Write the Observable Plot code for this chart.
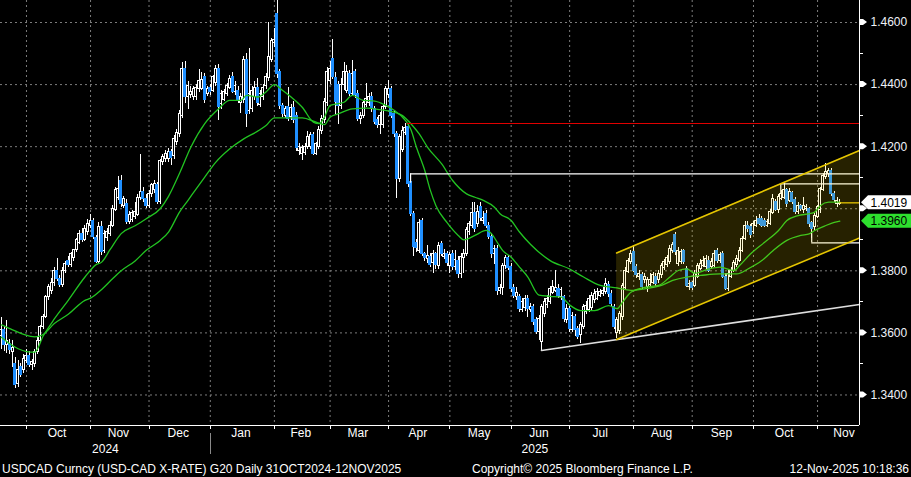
<!DOCTYPE html>
<html><head><meta charset="utf-8">
<script src="https://cdn.jsdelivr.net/npm/d3@7"></script>
<script src="https://cdn.jsdelivr.net/npm/@observablehq/plot@0.6"></script>
<style>
html,body{margin:0;padding:0;background:#000;}
#wrap{position:relative;width:911px;height:477px;overflow:hidden;background:#000;}
.foot{position:absolute;top:462px;height:15px;line-height:15px;font:12px 'Liberation Sans',Arial,sans-serif;color:#fff;white-space:nowrap;}
</style></head>
<body>
<div id="wrap">
<div id="chart"></div>
<div class="foot" style="left:2px">USDCAD Curncy (USD-CAD X-RATE) G20 Daily 31OCT2024-12NOV2025</div>
<div class="foot" style="left:472px">Copyright© 2025 Bloomberg Finance L.P.</div>
<div class="foot" style="right:2px">12-Nov-2025 10:18:36</div>
</div>
<script>
// ---------------- data (daily candles, trading-day index 0 = 18 Sep 2024) ----------------
const open = [
1.3590,1.3608,1.3560,1.3565,1.3540,1.3500,1.3435,1.3490,1.3480,1.3510,
1.3527,1.3497,1.3500,1.3538,1.3575,1.3618,1.3651,1.3715,1.3735,1.3760,
1.3800,1.3775,1.3755,1.3800,1.3833,1.3818,1.3840,1.3866,1.3890,1.3920,
1.3900,1.3925,1.3945,1.3960,1.3905,1.3830,1.3940,1.3865,1.3905,1.3920,
1.3945,1.3995,1.4035,1.4090,1.4010,1.4015,1.3958,1.3965,1.3975,1.3980,
1.4035,1.4055,1.4030,1.4010,1.4048,1.4060,1.4075,1.4022,1.4150,1.4160,
1.4160,1.4182,1.4170,1.4215,1.4240,1.4300,1.4451,1.4360,1.4365,1.4360,
1.4360,1.4385,1.4385,1.4425,1.4370,1.4390,1.4380,1.4405,1.4450,1.4338,
1.4350,1.4370,1.4390,1.4424,1.4375,1.4380,1.4340,1.4350,1.4478,1.4316,
1.4320,1.4360,1.4390,1.4335,1.4360,1.4395,1.4420,1.4480,1.4535,1.4628,
1.4440,1.4330,1.4300,1.4327,1.4295,1.4325,1.4300,1.4185,1.4175,1.4180,
1.4200,1.4200,1.4236,1.4177,1.4200,1.4250,1.4285,1.4340,1.4410,1.4483,
1.4420,1.4400,1.4330,1.4400,1.4380,1.4435,1.4370,1.4440,1.4370,1.4290,
1.4300,1.4334,1.4340,1.4360,1.4320,1.4285,1.4270,1.4270,1.4327,1.4365,
1.4385,1.4305,1.4240,1.4096,1.4190,1.4245,1.4263,1.4085,1.3984,1.3890,
1.3865,1.3960,1.3855,1.3838,1.3845,1.3825,1.3855,1.3815,1.3885,1.3845,
1.3855,1.3815,1.3855,1.3812,1.3833,1.3790,1.3840,1.3855,1.3925,1.3945,
1.3985,1.3950,1.4005,1.3962,1.3984,1.3945,1.3910,1.3855,1.3870,1.3735,
1.3745,1.3815,1.3840,1.3812,1.3745,1.3715,1.3715,1.3675,1.3680,1.3710,
1.3675,1.3683,1.3640,1.3602,1.3570,1.3660,1.3690,1.3700,1.3730,1.3735,
1.3742,1.3715,1.3715,1.3640,1.3678,1.3608,1.3651,1.3613,1.3592,1.3618,
1.3667,1.3675,1.3680,1.3705,1.3710,1.3720,1.3725,1.3731,1.3753,1.3726,
1.3683,1.3600,1.3605,1.3650,1.3745,1.3796,1.3828,1.3860,1.3812,1.3780,
1.3785,1.3769,1.3747,1.3755,1.3760,1.3780,1.3769,1.3785,1.3810,1.3820,
1.3828,1.3865,1.3914,1.3822,1.3828,1.3865,1.3805,1.3748,1.3760,1.3750,
1.3780,1.3805,1.3815,1.3812,1.3833,1.3812,1.3815,1.3865,1.3833,1.3855,
1.3780,1.3742,1.3780,1.3801,1.3818,1.3833,1.3865,1.3903,1.3946,1.3941,
1.3925,1.3946,1.3967,1.3967,1.3962,1.3946,1.3951,1.3985,1.4021,1.3995,
1.4032,1.4035,1.4059,1.4025,1.4050,1.4027,1.3990,1.4010,1.3995,1.4000,
1.4000,1.3955,1.3940,1.3975,1.3995,1.4059,1.4102,1.4112,1.4123,1.4048,
1.4016,1.4014];
const high = [
1.3650,1.3620,1.3640,1.3580,1.3575,1.3520,1.3510,1.3500,1.3530,1.3545,
1.3540,1.3515,1.3545,1.3585,1.3625,1.3660,1.3720,1.3755,1.3775,1.3810,
1.3840,1.3785,1.3810,1.3830,1.3845,1.3860,1.3870,1.3905,1.3930,1.3935,
1.3945,1.3965,1.3980,1.3970,1.3915,1.3955,1.3960,1.3930,1.3935,1.3960,
1.4010,1.4070,1.4105,1.4108,1.4040,1.4030,1.3990,1.3995,1.4020,1.4045,
1.4175,1.4070,1.4045,1.4060,1.4080,1.4090,1.4085,1.4160,1.4175,1.4188,
1.4195,1.4190,1.4235,1.4255,1.4315,1.4470,1.4475,1.4410,1.4395,1.4395,
1.4400,1.4450,1.4440,1.4435,1.4395,1.4400,1.4430,1.4460,1.4465,1.4380,
1.4385,1.4405,1.4430,1.4440,1.4410,1.4395,1.4370,1.4490,1.4500,1.4515,
1.4395,1.4410,1.4420,1.4380,1.4400,1.4435,1.4600,1.4550,1.4580,1.4710,
1.4450,1.4340,1.4330,1.4390,1.4335,1.4345,1.4310,1.4210,1.4205,1.4210,
1.4250,1.4245,1.4245,1.4215,1.4265,1.4300,1.4355,1.4455,1.4475,1.4545,
1.4440,1.4410,1.4420,1.4470,1.4460,1.4445,1.4478,1.4450,1.4380,1.4310,
1.4350,1.4405,1.4370,1.4375,1.4330,1.4295,1.4310,1.4335,1.4395,1.4413,
1.4395,1.4315,1.4250,1.4240,1.4265,1.4275,1.4275,1.4095,1.3990,1.3900,
1.3965,1.3970,1.3860,1.3880,1.3855,1.3865,1.3860,1.3890,1.3895,1.3870,
1.3862,1.3860,1.3865,1.3865,1.3845,1.3855,1.3870,1.3940,1.3960,1.4020,
1.4020,1.4010,1.4020,1.3990,1.3995,1.3955,1.3920,1.3880,1.3880,1.3755,
1.3825,1.3850,1.3850,1.3822,1.3755,1.3745,1.3725,1.3712,1.3720,1.3720,
1.3695,1.3690,1.3650,1.3655,1.3690,1.3710,1.3720,1.3750,1.3769,1.3801,
1.3755,1.3745,1.3720,1.3690,1.3685,1.3665,1.3660,1.3620,1.3635,1.3690,
1.3700,1.3720,1.3730,1.3740,1.3742,1.3740,1.3745,1.3774,1.3765,1.3735,
1.3690,1.3650,1.3670,1.3760,1.3810,1.3840,1.3865,1.3882,1.3820,1.3800,
1.3795,1.3790,1.3780,1.3790,1.3795,1.3790,1.3800,1.3825,1.3835,1.3850,
1.3880,1.3890,1.3925,1.3875,1.3870,1.3870,1.3815,1.3770,1.3765,1.3800,
1.3825,1.3835,1.3845,1.3850,1.3845,1.3840,1.3865,1.3872,1.3860,1.3862,
1.3790,1.3800,1.3810,1.3832,1.3850,1.3875,1.3910,1.3958,1.3960,1.3950,
1.3960,1.3975,1.3980,1.3975,1.3970,1.3965,1.3998,1.4045,1.4030,1.4045,
1.4058,1.4080,1.4065,1.4065,1.4055,1.4035,1.4020,1.4015,1.4037,1.4015,
1.4005,1.3960,1.3985,1.4010,1.4070,1.4115,1.4145,1.4130,1.4130,1.4055,
1.4035,1.4030];
const low = [
1.3545,1.3540,1.3535,1.3530,1.3490,1.3421,1.3425,1.3455,1.3470,1.3500,
1.3490,1.3480,1.3490,1.3530,1.3570,1.3610,1.3645,1.3705,1.3725,1.3750,
1.3765,1.3745,1.3745,1.3790,1.3810,1.3810,1.3830,1.3858,1.3885,1.3890,
1.3895,1.3915,1.3935,1.3900,1.3825,1.3820,1.3850,1.3855,1.3895,1.3910,
1.3940,1.3990,1.4025,1.4005,1.4000,1.3950,1.3950,1.3955,1.3965,1.3975,
1.4025,1.4020,1.4000,1.4000,1.4035,1.4050,1.4015,1.4015,1.4140,1.4150,
1.4150,1.4140,1.4160,1.4205,1.4230,1.4290,1.4340,1.4320,1.4355,1.4350,
1.4350,1.4375,1.4380,1.4340,1.4360,1.4365,1.4375,1.4395,1.4285,1.4320,
1.4345,1.4360,1.4385,1.4370,1.4365,1.4340,1.4306,1.4340,1.4263,1.4305,
1.4310,1.4350,1.4330,1.4325,1.4350,1.4385,1.4410,1.4470,1.4520,1.4420,
1.4320,1.4295,1.4290,1.4280,1.4285,1.4275,1.4185,1.4170,1.4155,1.4170,
1.4190,1.4190,1.4170,1.4170,1.4190,1.4240,1.4275,1.4330,1.4400,1.4415,
1.4300,1.4270,1.4320,1.4380,1.4370,1.4360,1.4360,1.4355,1.4280,1.4273,
1.4290,1.4325,1.4330,1.4310,1.4270,1.4260,1.4240,1.4260,1.4320,1.4355,
1.4290,1.4230,1.4032,1.4085,1.4180,1.4235,1.4070,1.3975,1.3845,1.3860,
1.3855,1.3845,1.3830,1.3825,1.3810,1.3790,1.3805,1.3805,1.3845,1.3835,
1.3815,1.3790,1.3800,1.3800,1.3775,1.3775,1.3790,1.3845,1.3915,1.3935,
1.3925,1.3940,1.3960,1.3950,1.3935,1.3900,1.3840,1.3820,1.3720,1.3725,
1.3720,1.3805,1.3800,1.3730,1.3710,1.3705,1.3665,1.3665,1.3670,1.3651,
1.3665,1.3625,1.3595,1.3575,1.3543,1.3650,1.3680,1.3690,1.3725,1.3730,
1.3710,1.3705,1.3635,1.3630,1.3600,1.3600,1.3590,1.3580,1.3565,1.3610,
1.3660,1.3665,1.3670,1.3695,1.3705,1.3715,1.3718,1.3725,1.3715,1.3685,
1.3610,1.3582,1.3595,1.3640,1.3737,1.3790,1.3820,1.3795,1.3775,1.3770,
1.3740,1.3760,1.3730,1.3745,1.3755,1.3750,1.3760,1.3775,1.3800,1.3810,
1.3820,1.3855,1.3850,1.3815,1.3820,1.3820,1.3745,1.3737,1.3735,1.3745,
1.3775,1.3800,1.3810,1.3805,1.3795,1.3805,1.3810,1.3825,1.3825,1.3775,
1.3735,1.3732,1.3775,1.3795,1.3812,1.3828,1.3860,1.3898,1.3925,1.3905,
1.3918,1.3940,1.3945,1.3940,1.3938,1.3940,1.3945,1.3980,1.3990,1.3985,
1.4025,1.4030,1.4005,1.4020,1.4015,1.3980,1.3980,1.3990,1.3985,1.3990,
1.3940,1.3905,1.3930,1.3970,1.3985,1.4055,1.4095,1.4100,1.4040,1.4020,
1.4005,1.4010];
const close = [
1.3610,1.3560,1.3575,1.3545,1.3550,1.3432,1.3480,1.3465,1.3517,1.3527,
1.3497,1.3505,1.3538,1.3575,1.3618,1.3651,1.3715,1.3747,1.3760,1.3800,
1.3775,1.3753,1.3800,1.3823,1.3818,1.3855,1.3866,1.3898,1.3920,1.3900,
1.3935,1.3952,1.3960,1.3910,1.3830,1.3940,1.3860,1.3920,1.3925,1.3945,
1.4000,1.4060,1.4065,1.4015,1.4030,1.3958,1.3980,1.3985,1.3990,1.4035,
1.4055,1.4030,1.4010,1.4048,1.4075,1.4080,1.4022,1.4155,1.4166,1.4177,
1.4182,1.4165,1.4225,1.4245,1.4305,1.4451,1.4360,1.4395,1.4375,1.4385,
1.4390,1.4410,1.4415,1.4350,1.4385,1.4375,1.4425,1.4450,1.4327,1.4370,
1.4375,1.4395,1.4418,1.4375,1.4395,1.4350,1.4360,1.4478,1.4306,1.4370,
1.4380,1.4390,1.4340,1.4370,1.4390,1.4424,1.4488,1.4540,1.4545,1.4435,
1.4330,1.4306,1.4320,1.4290,1.4325,1.4285,1.4195,1.4200,1.4195,1.4200,
1.4232,1.4236,1.4177,1.4209,1.4255,1.4290,1.4345,1.4440,1.4451,1.4424,
1.4343,1.4330,1.4400,1.4440,1.4440,1.4370,1.4435,1.4365,1.4290,1.4300,
1.4340,1.4355,1.4360,1.4320,1.4280,1.4270,1.4300,1.4327,1.4385,1.4385,
1.4300,1.4240,1.4096,1.4230,1.4250,1.4260,1.4080,1.3984,1.3876,1.3873,
1.3955,1.3855,1.3840,1.3848,1.3820,1.3855,1.3820,1.3880,1.3855,1.3855,
1.3825,1.3850,1.3812,1.3835,1.3790,1.3845,1.3855,1.3930,1.3950,1.3985,
1.3935,1.3990,1.3970,1.3970,1.3945,1.3910,1.3855,1.3870,1.3735,1.3745,
1.3815,1.3840,1.3810,1.3740,1.3720,1.3730,1.3678,1.3700,1.3710,1.3678,
1.3685,1.3635,1.3602,1.3645,1.3683,1.3699,1.3710,1.3742,1.3747,1.3745,
1.3720,1.3737,1.3645,1.3678,1.3613,1.3656,1.3608,1.3586,1.3624,1.3683,
1.3688,1.3710,1.3720,1.3725,1.3731,1.3731,1.3735,1.3758,1.3726,1.3694,
1.3618,1.3640,1.3661,1.3750,1.3801,1.3833,1.3855,1.3801,1.3785,1.3790,
1.3747,1.3780,1.3769,1.3769,1.3785,1.3758,1.3790,1.3815,1.3828,1.3840,
1.3871,1.3882,1.3860,1.3865,1.3860,1.3830,1.3750,1.3758,1.3746,1.3790,
1.3815,1.3822,1.3833,1.3838,1.3801,1.3828,1.3855,1.3833,1.3850,1.3780,
1.3742,1.3790,1.3801,1.3825,1.3838,1.3865,1.3903,1.3946,1.3935,1.3914,
1.3951,1.3962,1.3951,1.3946,1.3946,1.3956,1.3990,1.4032,1.3995,1.4037,
1.4048,1.4059,1.4015,1.4055,1.4021,1.3990,1.4010,1.3998,1.4010,1.4005,
1.3950,1.3935,1.3978,1.4005,1.4064,1.4107,1.4118,1.4123,1.4048,1.4027,
1.4025,1.4019];

// moving averages at sample trading days
const fastIdx = [0,3,6,9,12,15,19,24,30,34,36,39,43,48,52,57,60,64,68,73,78,82,86,88,92,95,98,101,104,108,112,114,116,118,123,126,130,134,138,141,145,147,149,152,154,156,160,164,166,170,174,176,178,180,183,186,189,193,197,201,204,208,213,218,221,223,226,231,236,240,243,246,249,254,258,263,265,269,274,279,282,286,290,292,294,297,301];
const fastVal = [1.3586,1.3565,1.3549,1.3540,1.3538,1.3590,1.3645,1.3705,1.3780,1.3820,1.3828,1.3868,1.3920,1.3945,1.3968,1.4000,1.4040,1.4115,1.4198,1.4274,1.4322,1.4349,1.4349,1.4365,1.4360,1.4376,1.4400,1.4381,1.4360,1.4327,1.4279,1.4274,1.4295,1.4333,1.4343,1.4365,1.4349,1.4347,1.4333,1.4317,1.4285,1.4255,1.4198,1.4123,1.4059,1.4010,1.3955,1.3914,1.3900,1.3914,1.3930,1.3919,1.3892,1.3865,1.3844,1.3812,1.3780,1.3722,1.3718,1.3715,1.3690,1.3672,1.3672,1.3688,1.3678,1.3699,1.3731,1.3747,1.3753,1.3780,1.3801,1.3806,1.3792,1.3806,1.3812,1.3801,1.3817,1.3855,1.3892,1.3930,1.3962,1.3978,1.3984,1.3989,1.4010,1.4021,1.4021];
const slowIdx = [0,4,8,12,15,19,24,30,32,36,40,43,48,52,57,60,64,67,70,73,77,82,87,92,95,98,103,108,113,116,118,121,126,131,136,141,144,147,150,153,158,162,167,170,173,177,179,183,186,190,197,204,209,215,221,226,231,237,241,246,251,258,264,268,273,277,282,287,290,292,296,299,301];
const slowVal = [1.3626,1.3610,1.3595,1.3587,1.3595,1.3630,1.3660,1.3705,1.3712,1.3740,1.3775,1.3800,1.3832,1.3866,1.3898,1.3925,1.3990,1.4027,1.4065,1.4102,1.4150,1.4193,1.4225,1.4250,1.4268,1.4293,1.4293,1.4293,1.4279,1.4271,1.4295,1.4306,1.4322,1.4324,1.4319,1.4311,1.4300,1.4274,1.4241,1.4198,1.4145,1.4091,1.4048,1.4037,1.4027,1.4005,1.3984,1.3962,1.3925,1.3885,1.3833,1.3806,1.3780,1.3753,1.3745,1.3737,1.3742,1.3753,1.3769,1.3780,1.3785,1.3790,1.3790,1.3806,1.3833,1.3865,1.3898,1.3914,1.3919,1.3930,1.3946,1.3956,1.3960];

// drawn studies
const channelIdx = [220.86, 308.06];
const channelUpper = [1.38574, 1.41876];
const channelLower = [1.35791, 1.39057];
const trendIdx = [193.9, 308.06];
const trendVal = [1.35433, 1.36915];
const redLevel = 1.42746, redStart = 145.7;
const bracketStart = [146.9, 279.8, 290.9];
const bracketLevel = [1.41126, 1.40804, 1.38903];
const bracketTip = [1.40823, 1.40482, 1.39193];
const majorTicks = [1.34, 1.36, 1.38, 1.40, 1.42, 1.44, 1.46];
const minorTicks = [1.35, 1.37, 1.39, 1.41, 1.43, 1.45];

// ---------------- layout ----------------
const X_MIN = -0.323, X_MAX = 308.06, Y_MIN = 1.330168, Y_MAX = 1.467088;
const FONT = "'Liberation Sans', Arial, Helvetica, sans-serif";
const GREEN = "#22c422", BLUE = "#1f8fff", GOLD = "#e6c600";

const candles = close.map((c, i) => ({i, o: open[i], h: high[i], l: low[i], c}));
const up = candles.filter(d => d.c >= d.o), down = candles.filter(d => d.c < d.o);
const fast = fastIdx.map((i, k) => ({i, v: fastVal[k]}));
const slow = slowIdx.map((i, k) => ({i, v: slowVal[k]}));
const channel = channelIdx.map((i, k) => ({i, hi: channelUpper[k], lo: channelLower[k]}));
const trend = trendIdx.map((i, k) => ({i, v: trendVal[k]}));
const brackets = bracketStart.map((s, k) => ({s, y: bracketLevel[k], t: bracketTip[k]}));
const lastIdx = close.length - 1, lastClose = close[lastIdx], lastSlow = slowVal[slowVal.length - 1];

// trading-day calendar (weekdays)
const days = [];
for (let d = new Date(Date.UTC(2024, 8, 18)); days.length < 340; d.setUTCDate(d.getUTCDate() + 1)) {
  const w = d.getUTCDay(); if (w !== 0 && w !== 6) days.push(new Date(d));
}
const ym = d => d.getUTCFullYear() * 12 + d.getUTCMonth();
const monthTicks = [];
for (let i = 1; i < days.length && i <= X_MAX; i++) if (ym(days[i]) !== ym(days[i - 1])) monthTicks.push({i, date: days[i]});
const fmtM = d3.utcFormat("%b");
const monthLabels = monthTicks.map(t => {
  const n = days.filter(d => ym(d) === ym(t.date)).length;
  return {x: t.i + n / 2 - 0.5, label: fmtM(t.date)};
});
const janTick = monthTicks.find(t => t.date.getUTCMonth() === 0);
const yearLabels = [
  {x: (X_MIN + janTick.i) / 2, label: String(janTick.date.getUTCFullYear() - 1)},
  {x: (janTick.i + X_MAX) / 2, label: String(janTick.date.getUTCFullYear())}
];

function decor(index, scales, values, dims) {
  const x = scales.x, y = scales.y;
  const right = dims.width - dims.marginRight, bottom = dims.height - dims.marginBottom;
  const g = d3.create("svg:g");
  for (const t of monthTicks) {
    const px = Math.round(x(t.i)) + 0.5;
    g.append("line").attr("x1", px).attr("x2", px).attr("y1", bottom).attr("y2", bottom + 4).attr("stroke", "#fff");
  }
  const jx = Math.round(x(janTick.i)) + 0.5;
  g.append("line").attr("x1", jx).attr("x2", jx).attr("y1", bottom + 8).attr("y2", bottom + 29).attr("stroke", "#8a8a8a");
  for (const v of minorTicks) {
    const py = Math.round(y(v)) + 0.5;
    g.append("line").attr("x1", right).attr("x2", right + 4).attr("y1", py).attr("y2", py).attr("stroke", "#fff");
  }
  for (const v of majorTicks) {
    const py = y(v);
    g.append("path").attr("d", `M${right},${py - 3}H${right + 4}L${right + 8},${py}L${right + 4},${py + 3}H${right}Z`).attr("fill", "#fff");
  }
  const box = (v, fill) => {
    const py = y(v);
    g.append("path").attr("d", `M${right + 2},${py}L${right + 9},${py - 7}H${dims.width}V${py + 7}H${right + 9}Z`).attr("fill", fill);
  };
  box(lastClose, "#ffffff");
  box(lastSlow, "#2ee02e");
  return g.node();
}

const tooClose = v => Math.abs(v - lastClose) < 0.0035 || Math.abs(v - lastSlow) < 0.0035;

const chart = Plot.plot({
  width: 911, height: 462,
  marginTop: 0, marginRight: 52, marginBottom: 37, marginLeft: 0,
  x: {domain: [X_MIN, X_MAX], axis: null},
  y: {domain: [Y_MIN, Y_MAX], axis: null},
  style: {background: "#000", color: "#fff", fontFamily: FONT, fontSize: "12px"},
  marks: [
    Plot.ruleY(majorTicks, {stroke: "#7c7c7c", strokeDasharray: "2,3"}),
    Plot.ruleX(monthTicks, {x: "i", stroke: "#7c7c7c", strokeDasharray: "2,3"}),
    Plot.ruleX(candles, {x: "i", y1: "l", y2: "h", stroke: "#fff", strokeWidth: 1, shapeRendering: "crispEdges"}),
    Plot.rect(up, {x1: d => d.i - 0.36, x2: d => d.i + 0.36, y1: "o", y2: "c", fill: "#000", stroke: "#fff", strokeWidth: 1, shapeRendering: "crispEdges"}),
    Plot.rect(down, {x1: d => d.i - 0.36, x2: d => d.i + 0.36, y1: "o", y2: "c", fill: BLUE, stroke: BLUE, strokeWidth: 1, shapeRendering: "crispEdges"}),
    Plot.line(slow, {x: "i", y: "v", stroke: GREEN, strokeWidth: 1.3, curve: "monotone-x"}),
    Plot.line(fast, {x: "i", y: "v", stroke: GREEN, strokeWidth: 1.3, curve: "monotone-x"}),
    Plot.ruleY([{y: redLevel, s: redStart}], {y: "y", x1: "s", x2: X_MAX, stroke: "#e00000", strokeWidth: 1.2}),
    Plot.ruleY(brackets, {y: "y", x1: "s", x2: X_MAX, stroke: "#fff", strokeWidth: 1.2}),
    Plot.ruleX(brackets, {x: "s", y1: "y", y2: "t", stroke: "#fff", strokeWidth: 1.2}),
    Plot.line(trend, {x: "i", y: "v", stroke: "#dedede", strokeWidth: 1.7}),
    Plot.areaY(channel, {x: "i", y1: "lo", y2: "hi", fill: "#ffe000", fillOpacity: 0.15}),
    Plot.line(channel, {x: "i", y: "hi", stroke: GOLD, strokeWidth: 1.6}),
    Plot.line(channel, {x: "i", y: "lo", stroke: GOLD, strokeWidth: 1.6}),
    Plot.ruleY([{y: lastClose, s: lastIdx}], {y: "y", x1: "s", x2: X_MAX, stroke: GOLD, strokeWidth: 1.3}),
    Plot.ruleY([Y_MIN], {stroke: "#fff", strokeWidth: 1}),
    Plot.ruleX([X_MAX], {stroke: "#fff", strokeWidth: 1}),
    decor,
    Plot.text(monthLabels, {x: "x", text: "label", frameAnchor: "bottom", dy: 11, fill: "#fff", fontSize: 12, fontFamily: FONT}),
    Plot.text(yearLabels, {x: "x", text: "label", frameAnchor: "bottom", dy: 27, fill: "#fff", fontSize: 12, fontFamily: FONT}),
    Plot.text(majorTicks.filter(v => !tooClose(v)), {y: d => d, text: d => d.toFixed(4), frameAnchor: "right", dx: 11, textAnchor: "start", fill: "#eef2f8", fontSize: 12, fontFamily: FONT}),
    Plot.text([lastClose, lastSlow], {y: d => d, text: d => d.toFixed(4), frameAnchor: "right", dx: 11, textAnchor: "start", fill: "#000", fontSize: 12, fontFamily: FONT})
  ]
});
document.getElementById("chart").appendChild(chart);
</script>
</body></html>
